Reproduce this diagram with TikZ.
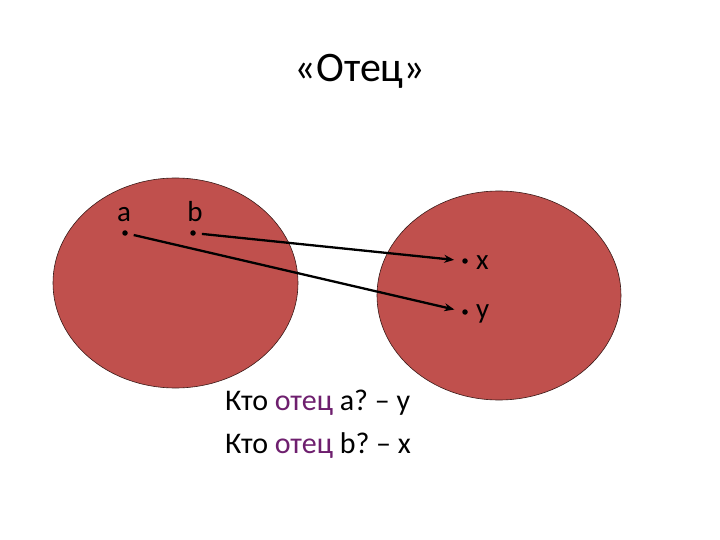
\documentclass[tikz,border=0pt]{standalone}
\usepackage{fontspec}
\setmainfont{Carlito}
\frenchspacing
\usetikzlibrary{arrows.meta}
\definecolor{setred}{HTML}{C0504D}
\definecolor{setedge}{HTML}{3A1A18}
\definecolor{fathercol}{HTML}{6E1F6E}
\tikzset{
  setoval/.style={draw=setedge, line width=0.6pt, fill=setred},
  elem/.style={circle, fill=black, inner sep=0pt, minimum size=5.5pt},
  elemlabel/.style={font=\fontsize{29}{34}\selectfont, inner sep=0pt, anchor=base},
  maparrow/.style={line width=2.3pt, -{Stealth[length=10pt,width=8pt]}, shorten <=6pt, shorten >=8pt},
  qline/.style={font=\fontsize{30}{36}\selectfont, anchor=base west, inner sep=0pt}
}
\begin{document}
\begin{tikzpicture}[x=1pt,y=-1pt]
\useasboundingbox (0,0) rectangle (720,540);
\fill[white] (0,0) rectangle (720,540);
\node[font=\fontsize{42}{48}\selectfont, anchor=base, inner sep=0pt] (title) at (360,82) {«Отец»};
\draw[setoval] (175.5,283) ellipse [x radius=122.5, y radius=105];
\draw[setoval] (499,295.5) ellipse [x radius=122, y radius=104.5];
\node[elem] (a) at (125,233) {};
\node[elem] (b) at (193,233) {};
\node[elem] (x) at (465,261) {};
\node[elem] (y) at (465,312) {};
\node[elemlabel] (la) at (124,222) {a};
\node[elemlabel] (lb) at (195,222) {b};
\node[elemlabel, anchor=base west] (lx) at (476,269) {x};
\node[elemlabel, anchor=base west] (ly) at (476,318) {y};
\draw[maparrow] (a) -- (y);
\draw[maparrow] (b) -- (x);
\node[qline] (q1) at (225,410) {Кто \textcolor{fathercol}{отец} a? – y};
\node[qline] (q2) at (225,453) {Кто \textcolor{fathercol}{отец} b? – x};
\end{tikzpicture}
\end{document}
